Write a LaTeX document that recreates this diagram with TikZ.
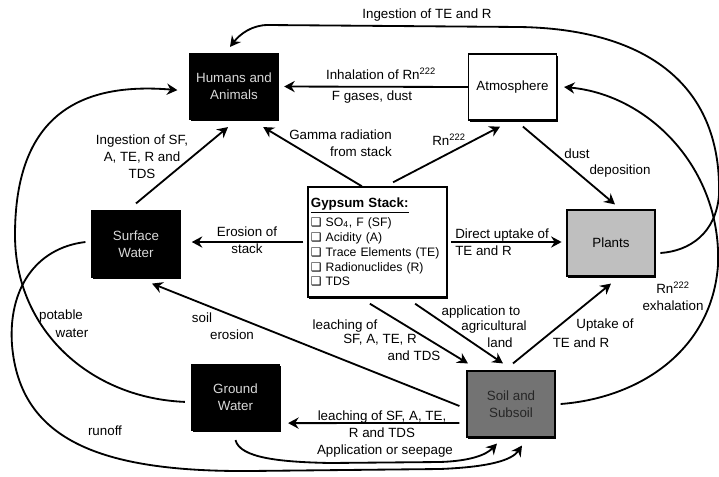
\documentclass[tikz,border=0pt]{standalone}
\usepackage{fontspec}
\setmainfont{Liberation Sans}
\newfontfamily\symfont{DejaVu Sans}
\usetikzlibrary{arrows.meta,shadows}

\newcommand{\lblfont}{\fontsize{9.5}{12}\selectfont}
\newcommand{\sqbox}{{\symfont\fontsize{8.5}{10}\selectfont ❑}}

\tikzset{
  box/.style={draw=black, line width=.8pt, minimum width=2.2cm, minimum height=1.65cm,
    align=center, font=\lblfont,
    drop shadow={shadow xshift=.8pt, shadow yshift=-1.2pt, fill=black, opacity=1}},
  darkbox/.style={box, fill=black, text=white!85!black},
  arr/.style={-{Stealth[length=7.5pt,width=8pt,inset=2.5pt]}, line width=1.3pt},
  lbl/.style={font=\lblfont, inner sep=0pt, align=center},
}

\begin{document}
\begin{tikzpicture}[x=0.025cm, y=-0.025cm]
  \useasboundingbox (0,0) rectangle (719,476);

  \node[darkbox] (hum) at (234,86.5) {Humans and\\Animals};
  \node[box, fill=white] (atm) at (512.5,87) {Atmosphere};
  \node[darkbox] (sw) at (136,244) {Surface\\Water};
  \node[box, fill=black!25] (pla) at (611,243) {Plants};
  \node[darkbox] (gw) at (235.5,397.5) {Ground\\Water};
  \node[box, fill=black!55, text=black!85] (soil) at (511,404) {Soil and\\Subsoil};
  \node[draw=black, line width=1pt, fill=white, minimum height=2.75cm, text width=3.33cm,
    inner xsep=2pt, align=left, font=\fontsize{8.7}{10.6}\selectfont,
    drop shadow={shadow xshift=.8pt, shadow yshift=-1.2pt, fill=black, opacity=1}] (gyp) at (377.5,242)
    {{\fontsize{9.5}{10}\selectfont\bfseries\underline{Gypsum Stack:}}\\[3pt]
     \sqbox\ SO\textsubscript{4}, F (SF)\\
     \sqbox\ Acidity (A)\\
     \sqbox\ Trace Elements (TE)\\
     \sqbox\ Radionuclides (R)\\
     \sqbox\ TDS};

  \draw[arr, shorten >=4pt] (atm.west) -- (hum.east);
  \draw[arr] ([xshift=-0.39cm]gyp.north) -- ([xshift=0.73cm,yshift=-0.175cm]hum.south);
  \draw[arr] ([xshift=0.39cm,yshift=0.1cm]gyp.north) -- ([xshift=-0.31cm,yshift=-0.15cm]atm.south);
  \draw[arr] ([xshift=0.26cm,yshift=-0.15cm]atm.south) -- ([xshift=0.1cm,yshift=0.125cm]pla.north);
  \draw[arr] ([yshift=0.175cm]sw.north) -- ([xshift=-0.15cm,yshift=-0.175cm]hum.south);
  \draw[arr, shorten <=0.1cm, shorten >=0.28cm] (gyp.west) -- (sw.east |- gyp.west);
  \draw[arr, shorten <=0.08cm, shorten >=0.12cm] (gyp.east) -- (pla.west |- gyp.east);
  \draw[arr] ([xshift=-0.19cm,yshift=-0.15cm]gyp.south) -- ([xshift=-1.075cm,yshift=0.175cm]soil.north);
  \draw[arr] ([xshift=0.94cm,yshift=-0.15cm]gyp.south) -- ([xshift=-0.2cm,yshift=0.175cm]soil.north);
  \draw[arr] ([xshift=0.05cm,yshift=0.175cm]soil.north) -- ([yshift=-0.175cm]pla.south);
  \draw[arr] ([xshift=-0.175cm,yshift=-0.05cm]soil.west) -- ([xshift=0.4cm,yshift=-0.15cm]sw.south);
  \draw[arr] ([xshift=-0.175cm,yshift=-0.475cm]soil.west) -- ([xshift=0.2cm,yshift=-0.64cm]gw.east);

  % long curved flows round the outside
  \draw[arr] ([xshift=0.12cm,yshift=-0.25cm]pla.east) .. controls (690,251) and (716,233) .. (719,195)
    .. controls (722,80) and (640,29) .. (520,27) -- (268,25)
    .. controls (252,25) and (240,34) .. ([xshift=-0.1cm,yshift=0.15cm]hum.north);
  \draw[arr] ([xshift=0.125cm]soil.east) .. controls (640,398) and (712,350) .. (718,265)
    .. controls (722,170) and (650,95) .. ([xshift=0.175cm]atm.east);
  \draw[arr] ([xshift=-0.15cm,yshift=-0.11cm]gw.west) .. controls (90,398) and (15,330) .. (15,235)
    .. controls (15,115) and (80,82) .. ([xshift=-0.3cm,yshift=-0.09cm]hum.west);
  \draw[arr] ([xshift=-0.15cm,yshift=0.05cm]sw.west) .. controls (35,248) and (8,290) .. (12,345)
    .. controls (20,440) and (100,472) .. (250,471) -- (440,469)
    .. controls (490,467) and (512,460) .. ([xshift=0.275cm,yshift=-0.2cm]soil.south);
  \draw[arr] ([yshift=-0.225cm]gw.south) .. controls (240,458) and (280,462) .. (330,463) -- (440,462)
    .. controls (470,461) and (486,455) .. ([xshift=-0.35cm,yshift=-0.15cm]soil.south);

  \node[lbl] (lIngTop) at (427,15) {Ingestion of TE and R};
  \node[lbl] (lInhal) at (381,74) {Inhalation of Rn\textsuperscript{222}};
  \node[lbl] (lFgas) at (372,97) {F gases, dust};
  \node[lbl, align=right, anchor=east] (lGamma) at (392,143) {Gamma radiation\\from stack};
  \node[lbl] (lRnAtm) at (449,140) {Rn\textsuperscript{222}};
  \node[lbl] (lDust) at (577,154) {dust};
  \node[lbl] (lDepo) at (620,171) {deposition};
  \node[lbl] (lIngSW) at (142,157) {Ingestion of SF,\\A, TE, R and\\TDS};
  \node[lbl] (lErosion) at (247,240) {Erosion of\\stack};
  \node[lbl, align=left, anchor=west] (lDirect) at (455,242) {Direct uptake of\\TE and R};
  \node[lbl] (lLeach1) at (345,326) {leaching of};
  \node[lbl] (lLeach2) at (380,340) {SF, A, TE, R};
  \node[lbl] (lLeach3) at (414,356) {and TDS};
  \node[lbl] (lAppl1) at (481,312) {application to};
  \node[lbl] (lAppl2) at (494,327) {agricultural};
  \node[lbl] (lAppl3) at (500,343) {land};
  \node[lbl] (lUptake1) at (605,325) {Uptake of};
  \node[lbl] (lUptake2) at (581,343) {TE and R};
  \node[lbl] (lExhal) at (673,296) {Rn\textsuperscript{222}\\exhalation};
  \node[lbl] (lSoilEro1) at (202,318) {soil};
  \node[lbl] (lSoilEro2) at (232,335) {erosion};
  \node[lbl] (lLeachGW) at (382,424) {leaching of SF, A, TE,\\R and TDS};
  \node[lbl] (lSeep) at (385,451) {Application or seepage};
  \node[lbl] (lPotable1) at (61,316) {potable};
  \node[lbl] (lPotable2) at (72,333) {water};
  \node[lbl] (lRunoff) at (105,431) {runoff};
\end{tikzpicture}
\end{document}
